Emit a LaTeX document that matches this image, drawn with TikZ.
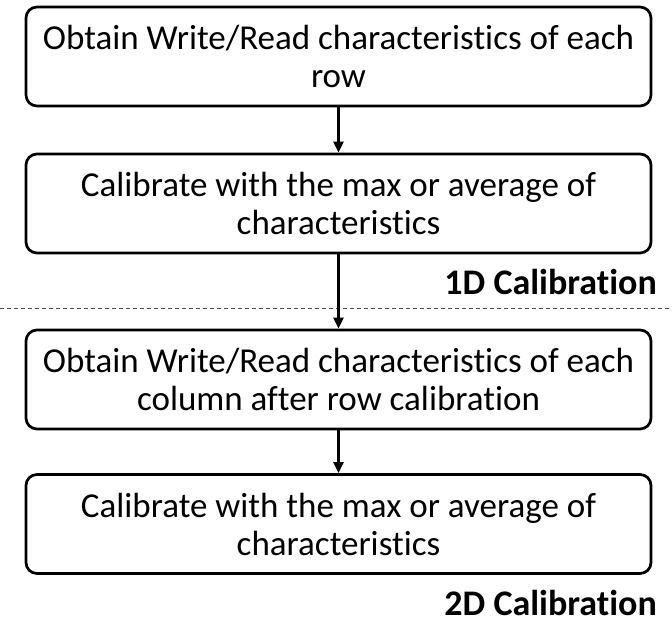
\documentclass[tikz,border=0pt]{standalone}
\usepackage{fontspec}
\setmainfont{Carlito}[Ligatures=NoCommon]
\usetikzlibrary{arrows.meta}
\begin{document}
\begin{tikzpicture}[x=1pt,y=-1pt,
  box/.style={draw, line width=2.7pt, rounded corners=11pt, minimum width=625pt, minimum height=99pt, align=center, font=\fontsize{35}{38}\selectfont, inner sep=0pt},
  arr/.style={-{Triangle[length=11pt,width=10pt]}, line width=2.2pt},
  lbl/.style={font=\fontsize{36}{40}\selectfont\bfseries, anchor=east, inner sep=0pt},
  sep/.style={dashed, dash pattern=on 4pt off 3pt, line width=0.9pt, draw=black!70}]
\useasboundingbox (0,0) rectangle (672,631);
\node[box] (b1) at (338.5,56.5) {Obtain Write/Read characteristics of each\\row};
\node[box] (b2) at (338.5,203.5) {Calibrate with the max or average of\\characteristics};
\node[box] (b3) at (338.5,379.5) {Obtain Write/Read characteristics of each\\column after row calibration};
\node[box] (b4) at (338.5,524) {Calibrate with the max or average of\\characteristics};
\coordinate (dl) at (0,308);
\coordinate (dr) at (672,308);
\draw[sep] (dl) -- (dr);
\node[lbl] (l1) at (657,282) {1D Calibration};
\node[lbl] (l2) at (657,603) {2D Calibration};
\draw[arr] (b1) -- (b2);
\draw[arr] (b2) -- (b3);
\draw[arr] (b3) -- (b4);
\end{tikzpicture}
\end{document}
